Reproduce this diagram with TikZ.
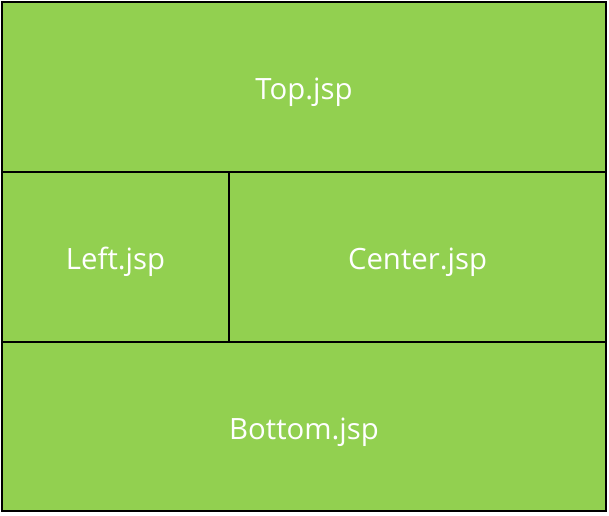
\documentclass[tikz,border=0pt]{standalone}
\usepackage{fontspec}
\setmainfont{Open Sans}
\definecolor{pagegreen}{HTML}{92D050}
\tikzset{
  cell/.style={draw=black, fill=pagegreen, line width=2pt, inner sep=0pt,
    text=white, font=\fontsize{22}{26}\selectfont, text height=19pt, text depth=0pt}
}
\begin{document}
\begin{tikzpicture}[x=0.75pt, y=-0.75pt]
\useasboundingbox (0,0) rectangle (609,515);
\node[cell, minimum width=453pt, minimum height=127.5pt] (top) at (304,87) {Top.jsp};
\node[cell, minimum width=170.25pt, minimum height=127.5pt] (left) at (115.5,257) {Left.jsp};
\node[cell, minimum width=282.75pt, minimum height=127.5pt] (center) at (417.5,257) {Center.jsp};
\node[cell, minimum width=453pt, minimum height=126.75pt] (bottom) at (304,426.5) {Bottom.jsp};
\end{tikzpicture}
\end{document}
